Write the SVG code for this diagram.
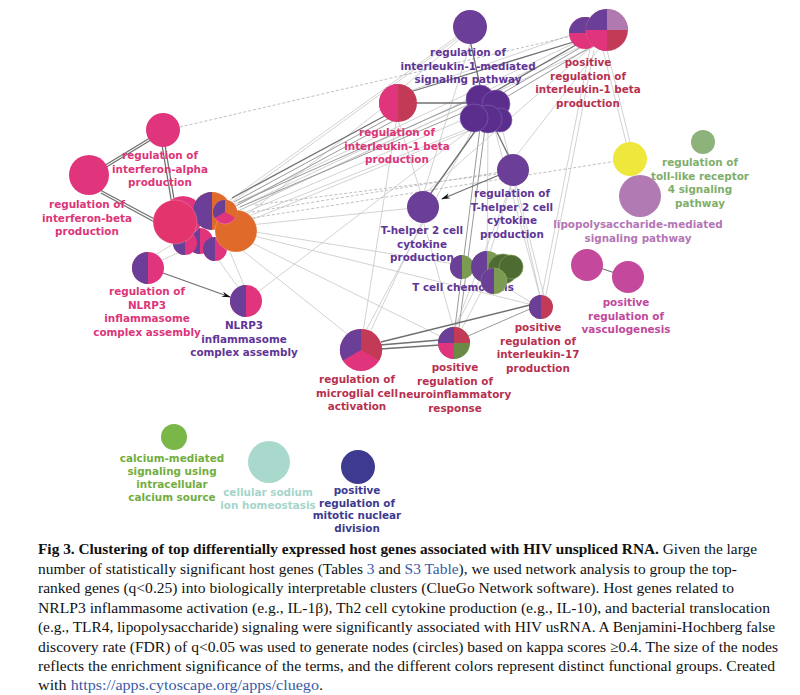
<svg xmlns="http://www.w3.org/2000/svg" width="800" height="695" viewBox="0 0 800 695">
<defs>
<style>
.e{stroke:#c6c6c6;stroke-width:0.8;fill:none}
.ed{stroke:#707070;stroke-width:1.3;fill:none}
.em{stroke:#9a9a9a;stroke-width:1;fill:none}
.dash{stroke:#b8b8b8;stroke-width:0.9;stroke-dasharray:3 2;fill:none}
.lb{font-family:"DejaVu Sans",Verdana,sans-serif;font-weight:bold;font-size:10.4px;text-anchor:middle}
.pk{fill:#dc3579}.pu{fill:#5f3596}.cr{fill:#b8304f}
.cap{font-family:"Liberation Serif","Times New Roman",serif;font-size:15.3px;fill:#111}
.lnk{fill:#3a5aa6}
.nb{stroke:#ffffff;stroke-opacity:0.35;stroke-width:0.6}
</style>
<marker id="ar" viewBox="0 0 10 10" refX="9" refY="5" markerWidth="7" markerHeight="7" orient="auto">
<path d="M0,2 L10,5 L0,8 L3,5 Z" fill="#111"/>
</marker>
</defs>
<rect width="800" height="695" fill="#ffffff"/>

<g id="connectors">
<!-- light edges -->
<line class="e" x1="230" y1="200" x2="470" y2="27"/>
<line class="e" x1="232" y1="202" x2="462" y2="35"/>
<line class="e" x1="235" y1="204" x2="585" y2="38"/>
<line class="e" x1="238" y1="208" x2="590" y2="42"/>
<line class="e" x1="236" y1="212" x2="596" y2="46"/>
<line class="e" x1="240" y1="210" x2="478" y2="100"/>
<line class="e" x1="242" y1="214" x2="486" y2="110"/>
<line class="e" x1="244" y1="218" x2="490" y2="120"/>
<line class="e" x1="246" y1="222" x2="500" y2="118"/>
<line class="e" x1="250" y1="225" x2="423" y2="207"/>
<line class="dash" x1="252" y1="212" x2="513" y2="170"/>
<line class="dash" x1="252" y1="218" x2="630" y2="159"/>
<line class="dash" x1="255" y1="205" x2="513" y2="172"/>
<line class="e" x1="255" y1="232" x2="480" y2="268"/>
<line class="e" x1="254" y1="236" x2="541" y2="307"/>
<line class="e" x1="250" y1="242" x2="454" y2="343"/>
<line class="e" x1="242" y1="250" x2="361" y2="345"/>
<line class="e" x1="230" y1="252" x2="246" y2="290"/>
<line class="e" x1="215" y1="255" x2="240" y2="290"/>
<line class="e" x1="180" y1="240" x2="150" y2="258"/>
<line class="e" x1="195" y1="245" x2="158" y2="262"/>
<line class="e" x1="258" y1="292" x2="480" y2="122"/>
<line class="e" x1="398" y1="110" x2="361" y2="345"/>
<line class="e" x1="398" y1="120" x2="423" y2="200"/>
<line class="e" x1="475" y1="125" x2="361" y2="340"/>
<line class="em" x1="480" y1="128" x2="454" y2="335"/>
<line class="em" x1="485" y1="128" x2="458" y2="335"/>
<line class="e" x1="488" y1="130" x2="487" y2="262"/>
<line class="e" x1="495" y1="130" x2="541" y2="300"/>
<line class="e" x1="502" y1="128" x2="545" y2="300"/>
<line class="e" x1="590" y1="48" x2="541" y2="300"/>
<line class="e" x1="594" y1="50" x2="545" y2="300"/>
<line class="e" x1="603" y1="50" x2="626" y2="142"/>
<line class="e" x1="607" y1="50" x2="630" y2="142"/>
<line class="e" x1="513" y1="178" x2="541" y2="300"/>
<line class="e" x1="513" y1="180" x2="487" y2="262"/>
<line class="e" x1="513" y1="180" x2="454" y2="330"/>
<line class="e" x1="423" y1="220" x2="454" y2="330"/>
<line class="e" x1="423" y1="220" x2="370" y2="332"/>
<line class="e" x1="485" y1="270" x2="454" y2="330"/>
<line class="e" x1="490" y1="275" x2="460" y2="332"/>
<line class="e" x1="495" y1="280" x2="535" y2="305"/>
<line class="e" x1="398" y1="95" x2="585" y2="30"/>
<line class="e" x1="400" y1="90" x2="470" y2="30"/>
<line class="e" x1="423" y1="195" x2="590" y2="48"/>
<line class="e" x1="380" y1="110" x2="240" y2="220"/>
<line class="e" x1="470" y1="44" x2="423" y2="195"/>
<line class="e" x1="513" y1="160" x2="598" y2="50"/>
<line class="dash" x1="180" y1="127" x2="585" y2="33"/>
<!-- dark edges -->
<line class="ed" x1="163" y1="130" x2="89" y2="175"/>
<line class="ed" x1="164" y1="132" x2="90" y2="177"/>
<line class="ed" x1="162" y1="145" x2="172" y2="205"/>
<line class="ed" x1="165" y1="145" x2="175" y2="205"/>
<line class="ed" x1="100" y1="190" x2="160" y2="222"/>
<line class="ed" x1="101" y1="193" x2="160" y2="225"/>
<line class="ed" x1="232" y1="198" x2="392" y2="112"/>
<line class="em" x1="234" y1="202" x2="393" y2="116"/>
<line class="em" x1="236" y1="206" x2="395" y2="120"/>
<line class="em" x1="238" y1="203" x2="470" y2="100"/>
<line class="em" x1="240" y1="207" x2="474" y2="108"/>
<line class="ed" x1="398" y1="103" x2="478" y2="103"/>
<line class="ed" x1="410" y1="92" x2="580" y2="40"/>
<line class="ed" x1="480" y1="100" x2="588" y2="38"/>
<line class="em" x1="484" y1="104" x2="590" y2="42"/>
<line class="em" x1="488" y1="108" x2="592" y2="46"/>
<line class="ed" x1="470" y1="40" x2="482" y2="95"/>
<line class="ed" x1="495" y1="128" x2="513" y2="165"/>
<line class="ed" x1="476" y1="130" x2="426" y2="200"/>
<line class="ed" x1="504" y1="173" x2="442" y2="199" marker-end="url(#ar)"/>
<line class="ed" x1="163" y1="273" x2="230" y2="297" marker-end="url(#ar)"/>
<line class="ed" x1="380" y1="345" x2="440" y2="340"/>
<line class="ed" x1="380" y1="349" x2="440" y2="345"/>
<line class="ed" x1="381" y1="342" x2="530" y2="305"/>
<line class="em" x1="468" y1="336" x2="530" y2="309"/>
<line class="ed" x1="600" y1="268" x2="615" y2="273"/>
</g>

<g id="labels-behind">
<text class="lb pu" x="463" y="291">T cell chemotaxis</text>
</g>

<g id="n-ifn-alpha">
<circle cx="163" cy="130" r="17" fill="#e0357c"/>
<text class="lb pk" x="160" y="159">regulation of</text>
<text class="lb pk" x="160" y="172.5">interferon-alpha</text>
<text class="lb pk" x="160" y="186">production</text>
</g>
<g id="n-ifn-beta">
<circle cx="89" cy="175" r="20" fill="#e0357c"/>
<text class="lb pk" x="87" y="208">regulation of</text>
<text class="lb pk" x="87" y="221.5">interferon-beta</text>
<text class="lb pk" x="87" y="235">production</text>
</g>
<g id="n-cluster-left">
<circle cx="200" cy="241" r="13" fill="#e0357c"/><path d="M200,228 A13,13 0 0 0 200,254 Z" fill="#6b3f98"/>
<circle cx="185" cy="243" r="12" fill="#e0357c"/><path d="M185,231 A12,12 0 0 0 185,255 Z" fill="#6b3f98"/>
<circle cx="215" cy="249" r="12" fill="#e0357c"/><path d="M215,237 A12,12 0 0 0 215,261 Z" fill="#6b3f98"/>
<circle cx="183" cy="216" r="20" fill="#e0357c" class="nb"/>
<circle cx="212" cy="211" r="19" fill="#e06a2a"/><path d="M212,192 A19,19 0 0 0 212,230 Z" fill="#6b3f98"/>
<circle cx="236" cy="231" r="21" fill="#e06a2a" class="nb"/>
<circle cx="225" cy="212" r="12" fill="#e0357c" class="nb"/>
<path d="M225,212 L225,200 A12,12 0 0 0 214.6,218 Z" fill="#6b3f98"/>
<path d="M225,212 L225,200 A12,12 0 0 1 235.4,218 Z" fill="#e06a2a"/>
<circle cx="175" cy="222" r="22" fill="#e3346e" class="nb"/>
</g>
<g id="n-il1b-prod">
<circle cx="398" cy="103" r="19" fill="#c23a55"/>
<path d="M398,84 A19,19 0 0 0 398,122 Z" fill="#e0357c"/>
<text class="lb pk" x="397" y="136">regulation of</text>
<text class="lb pk" x="397" y="149.5">interleukin-1 beta</text>
<text class="lb pk" x="397" y="163">production</text>
</g>
<g id="n-il1-mediated">
<circle cx="470" cy="27" r="17" fill="#6b3f98"/>
<text class="lb pu" x="468" y="56">regulation of</text>
<text class="lb pu" x="468" y="69.5">interleukin-1-mediated</text>
<text class="lb pu" x="468" y="83">signaling pathway</text>
</g>
<g id="n-pos-il1b">
<circle cx="585" cy="33" r="16" fill="#e0357c"/>
<path d="M569,33 A16,16 0 0 1 601,33 Z" fill="#6b3f98"/>
<circle cx="607" cy="30" r="21" fill="#c23a55" class="nb"/>
<path d="M607,30 L607,9 A21,21 0 0 0 586,30 Z" fill="#6b3f98"/>
<path d="M607,30 L607,9 A21,21 0 0 1 628,30 Z" fill="#b07ab0"/>
<path d="M607,30 L586,30 A21,21 0 0 0 607,51 Z" fill="#e0357c"/>
<text class="lb cr" x="588" y="66">positive</text>
<text class="lb cr" x="588" y="79.5">regulation of</text>
<text class="lb cr" x="588" y="93">interleukin-1 beta</text>
<text class="lb cr" x="588" y="106.5">production</text>
</g>
<g id="n-purple-cluster" fill="#5b2e8e" stroke="#8466b0" stroke-width="0.6">
<circle cx="480" cy="99" r="14"/>
<circle cx="496" cy="104" r="14"/>
<circle cx="500" cy="120" r="12"/>
<circle cx="488" cy="119" r="14"/>
<circle cx="474" cy="118" r="14"/>
</g>
<g id="n-reg-th2">
<circle cx="513" cy="170" r="16" fill="#6b3f98"/>
<text class="lb pu" x="512" y="197">regulation of</text>
<text class="lb pu" x="512" y="210.5">T-helper 2 cell</text>
<text class="lb pu" x="512" y="224">cytokine</text>
<text class="lb pu" x="512" y="237.5">production</text>
</g>
<g id="n-th2">
<circle cx="423" cy="207" r="16" fill="#6b3f98"/>
<text class="lb pu" x="422" y="234">T-helper 2 cell</text>
<text class="lb pu" x="422" y="247.5">cytokine</text>
<text class="lb pu" x="422" y="261">production</text>
</g>
<g id="n-yellow">
<circle cx="630" cy="159" r="17" fill="#eee83c"/>
</g>
<g id="n-tlr4">
<circle cx="703" cy="142" r="12" fill="#8db27a"/>
<text class="lb" fill="#7fae6a" x="700" y="166">regulation of</text>
<text class="lb" fill="#7fae6a" x="700" y="179.5">toll-like receptor</text>
<text class="lb" fill="#7fae6a" x="700" y="193">4 signaling</text>
<text class="lb" fill="#7fae6a" x="700" y="206.5">pathway</text>
</g>
<g id="n-lps">
<circle cx="640" cy="196" r="21" fill="#b27ab2"/>
<text class="lb" fill="#b575b5" x="638" y="228">lipopolysaccharide-mediated</text>
<text class="lb" fill="#b575b5" x="638" y="241.5">signaling pathway</text>
</g>
<g id="n-vasculogenesis">
<circle cx="587" cy="265" r="16" fill="#c4489c"/>
<circle cx="628" cy="277" r="16" fill="#c4489c"/>
<text class="lb" fill="#c2489c" x="626" y="306">positive</text>
<text class="lb" fill="#c2489c" x="626" y="319.5">regulation of</text>
<text class="lb" fill="#c2489c" x="626" y="333">vasculogenesis</text>
</g>
<g id="n-tcell-chemotaxis">
<circle cx="462" cy="267" r="12" fill="#7b9b52"/><path d="M462,255 A12,12 0 0 0 462,279 Z" fill="#6b3f98"/>
<circle cx="487" cy="267" r="16" fill="#7b9b52"/><path d="M487,251 A16,16 0 0 0 487,283 Z" fill="#6b3f98"/>
<circle cx="503" cy="269" r="15" fill="#4e6b32" stroke="#7a9a5a" stroke-width="0.8"/>
<circle cx="511" cy="267" r="12" fill="#4e6b32" stroke="#7a9a5a" stroke-width="0.8"/>
<circle cx="494" cy="281" r="13" fill="#7b9b52" stroke="#9ab27a" stroke-width="0.6"/><path d="M494,268 A13,13 0 0 0 494,294 Z" fill="#6b3f98"/>
</g>
<g id="n-il17">
<circle cx="541" cy="307" r="12" fill="#c23a55"/>
<path d="M541,295 A12,12 0 0 0 541,319 Z" fill="#6b3f98"/>
<text class="lb cr" x="538" y="331">positive</text>
<text class="lb cr" x="538" y="344.5">regulation of</text>
<text class="lb cr" x="538" y="358">interleukin-17</text>
<text class="lb cr" x="538" y="371.5">production</text>
</g>
<g id="n-neuroinflammatory">
<circle cx="454" cy="343" r="16" fill="#6a8a45"/>
<path d="M454,343 L454,327 A16,16 0 0 0 438,343 Z" fill="#6b3f98"/>
<path d="M454,343 L454,327 A16,16 0 0 1 470,343 Z" fill="#c23a55"/>
<path d="M454,343 L438,343 A16,16 0 0 0 454,359 Z" fill="#e0357c"/>
<text class="lb cr" x="455" y="371">positive</text>
<text class="lb cr" x="455" y="384.5">regulation of</text>
<text class="lb cr" x="455" y="398">neuroinflammatory</text>
<text class="lb cr" x="455" y="411.5">response</text>
</g>
<g id="n-microglial">
<circle cx="361" cy="350" r="21" fill="#e0357c"/>
<path d="M361,350 L361,329 A21,21 0 0 0 342.8,360.5 Z" fill="#6b3f98"/>
<path d="M361,350 L361,329 A21,21 0 0 1 379.2,360.5 Z" fill="#c23a55"/>
<text class="lb cr" x="357" y="383">regulation of</text>
<text class="lb cr" x="357" y="396.5">microglial cell</text>
<text class="lb cr" x="357" y="410">activation</text>
</g>
<g id="n-reg-nlrp3">
<circle cx="148" cy="268" r="16" fill="#e0357c"/>
<path d="M148,252 A16,16 0 0 0 148,284 Z" fill="#6b3f98"/>
<text class="lb pk" x="147" y="295">regulation of</text>
<text class="lb pk" x="147" y="308.5">NLRP3</text>
<text class="lb pk" x="147" y="322">inflammasome</text>
<text class="lb pk" x="147" y="335.5">complex assembly</text>
</g>
<g id="n-nlrp3">
<circle cx="246" cy="301" r="16" fill="#e0357c"/>
<path d="M246,285 A16,16 0 0 0 246,317 Z" fill="#6b3f98"/>
<text class="lb pu" x="244" y="329">NLRP3</text>
<text class="lb pu" x="244" y="342.5">inflammasome</text>
<text class="lb pu" x="244" y="356">complex assembly</text>
</g>
<g id="n-calcium">
<circle cx="174" cy="437" r="13" fill="#7ab648"/>
<text class="lb" fill="#72ad40" x="172" y="462">calcium-mediated</text>
<text class="lb" fill="#72ad40" x="172" y="475">signaling using</text>
<text class="lb" fill="#72ad40" x="172" y="488">intracellular</text>
<text class="lb" fill="#72ad40" x="172" y="501">calcium source</text>
</g>
<g id="n-sodium">
<circle cx="269" cy="462" r="21" fill="#a9d8cc"/>
<text class="lb" fill="#a5d5ca" x="268" y="496">cellular sodium</text>
<text class="lb" fill="#a5d5ca" x="268" y="508.5">ion homeostasis</text>
</g>
<g id="n-mitotic">
<circle cx="358" cy="467" r="17" fill="#3d3a8f"/>
<text class="lb" fill="#3d3a8f" x="357" y="494">positive</text>
<text class="lb" fill="#3d3a8f" x="357" y="506.5">regulation of</text>
<text class="lb" fill="#3d3a8f" x="357" y="519">mitotic nuclear</text>
<text class="lb" fill="#3d3a8f" x="357" y="531.5">division</text>
</g>

<g id="caption">
<text class="cap" x="38" y="554" textLength="719" lengthAdjust="spacingAndGlyphs"><tspan font-weight="bold">Fig 3. Clustering of top differentially expressed host genes associated with HIV unspliced RNA.</tspan> Given the large</text>
<text class="cap" x="38" y="573.5" textLength="699" lengthAdjust="spacingAndGlyphs">number of statistically significant host genes (Tables <tspan class="lnk">3</tspan> and <tspan class="lnk">S3 Table</tspan>), we used network analysis to group the top-</text>
<text class="cap" x="38" y="593" textLength="696" lengthAdjust="spacingAndGlyphs">ranked genes (q&lt;0.25) into biologically interpretable clusters (ClueGo Network software). Host genes related to</text>
<text class="cap" x="38" y="612.5" textLength="732" lengthAdjust="spacingAndGlyphs">NRLP3 inflammasome activation (e.g., IL-1β), Th2 cell cytokine production (e.g., IL-10), and bacterial translocation</text>
<text class="cap" x="38" y="632" textLength="737" lengthAdjust="spacingAndGlyphs">(e.g., TLR4, lipopolysaccharide) signaling were significantly associated with HIV usRNA. A Benjamini-Hochberg false</text>
<text class="cap" x="38" y="651.5" textLength="740" lengthAdjust="spacingAndGlyphs">discovery rate (FDR) of q&lt;0.05 was used to generate nodes (circles) based on kappa scores ≥0.4. The size of the nodes</text>
<text class="cap" x="38" y="671" textLength="737" lengthAdjust="spacingAndGlyphs">reflects the enrichment significance of the terms, and the different colors represent distinct functional groups. Created</text>
<text class="cap" x="38" y="690" textLength="285" lengthAdjust="spacingAndGlyphs">with <tspan class="lnk">https://apps.cytoscape.org/apps/cluego</tspan>.</text>
</g>
</svg>
